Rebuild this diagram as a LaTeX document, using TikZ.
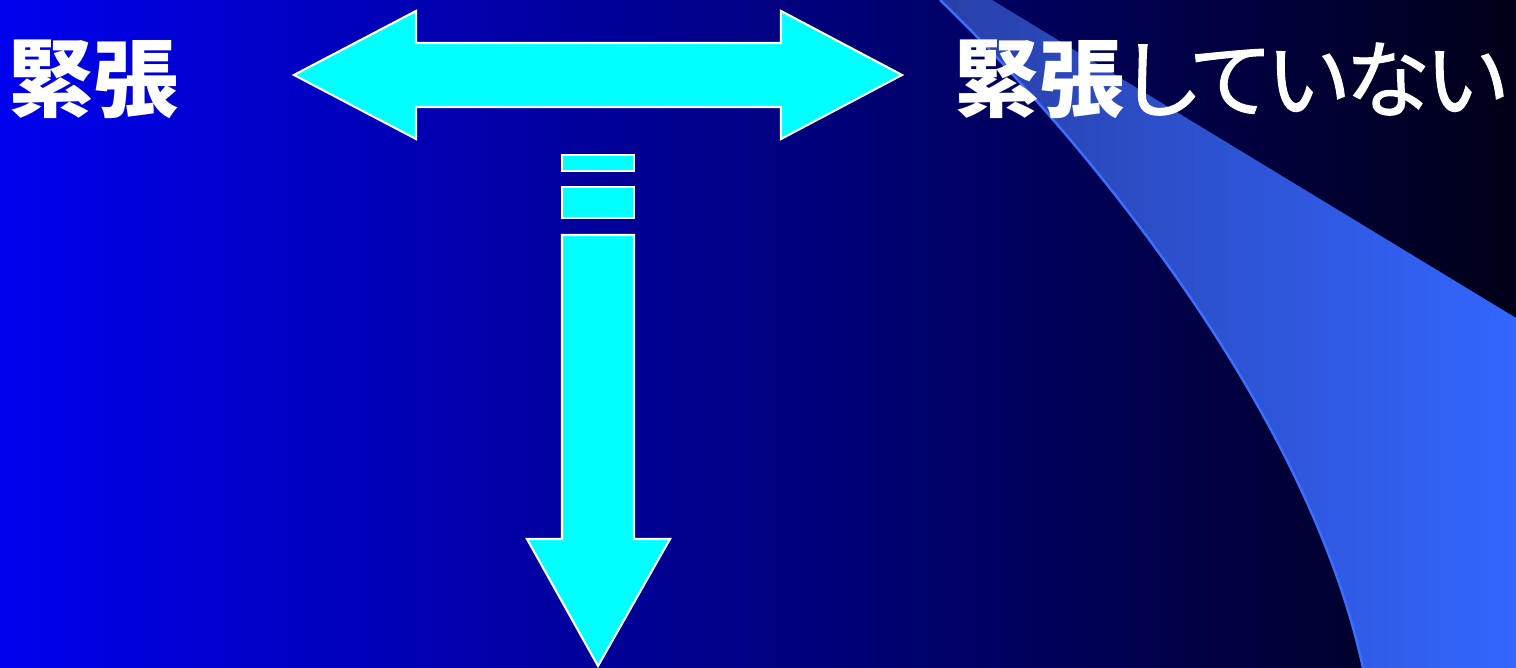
\documentclass[tikz,border=0pt]{standalone}
\usepackage{fontspec}
\newfontfamily\jpfont{Noto Sans CJK JP}
\newfontfamily\jpkana{Noto Sans CJK JP}[RawFeature=+palt, LetterSpace=-3, FakeBold=1.2]
\definecolor{bgleft}{RGB}{0,0,238}
\definecolor{bgright}{RGB}{0,0,24}
\definecolor{bandleft}{RGB}{40,64,168}
\definecolor{bandright}{RGB}{51,102,255}
\definecolor{edgeblue}{RGB}{60,110,255}
\definecolor{arrowfill}{RGB}{0,255,255}
\tikzset{
  x=0.01cm, y=-0.01cm,
  cyanshape/.style={fill=arrowfill, draw=white, line width=0.6pt, line join=miter},
  bigtext/.style={text=white, inner sep=0pt, anchor=base west, font=\fontsize{24.2pt}{29pt}\selectfont}
}
\begin{document}
\begin{tikzpicture}
\useasboundingbox (0,0) rectangle (1516,668);
% background gradient
\shade[left color=bgleft, right color=bgright] (0,0) rectangle (1516,668);
% swoosh band
\shade[left color=bandleft, right color=bandright]
  (940,0) .. controls (1070,125) and (1305,400) .. (1363,668)
  -- (1516,668) -- (1516,318) -- (992,0) -- cycle;
\draw[edgeblue, line width=0.7pt]
  (940,0) .. controls (1070,125) and (1305,400) .. (1363,668);
% double arrow
\draw[cyanshape] (294,75) -- (416,11) -- (416,43) -- (781,43) -- (781,11) -- (902,75)
  -- (781,139) -- (781,107) -- (416,107) -- (416,139) -- cycle;
% dashed down arrow
\draw[cyanshape] (562,155) rectangle (634,171);
\draw[cyanshape] (562,187) rectangle (634,218);
\draw[cyanshape] (562,235) -- (634,235) -- (634,539) -- (670,539) -- (598,666)
  -- (527,539) -- (562,539) -- cycle;
% texts
\node[bigtext] (tense) at (8,111) {\jpfont\bfseries 緊張};
\node[bigtext] (nottense) at (954,111) {\jpfont\bfseries 緊張\jpkana\mdseries していない};
\end{tikzpicture}
\end{document}
